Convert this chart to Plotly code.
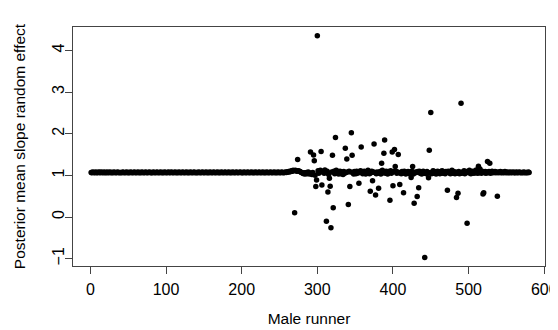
import plotly.graph_objects as go

# Posterior mean slope random effect per male runner
band_a = [  # runners 1-140
    1.07,1.06,1.08,1.07,1.07,1.06,1.08,1.07,1.06,1.07,1.08,1.07,1.06,1.08,1.07,1.07,1.06,1.08,1.07,1.06,
    1.07,1.08,1.06,1.07,1.07,1.08,1.06,1.07,1.07,1.06,1.08,1.07,1.07,1.06,1.07,1.08,1.07,1.06,1.07,1.07,
    1.06,1.07,1.08,1.07,1.06,1.07,1.07,1.08,1.06,1.07,1.07,1.06,1.08,1.07,1.07,1.06,1.07,1.08,1.07,1.06,
    1.07,1.07,1.08,1.06,1.07,1.07,1.06,1.08,1.07,1.07,1.06,1.07,1.08,1.07,1.06,1.07,1.07,1.08,1.07,1.06,
    1.07,1.06,1.08,1.07,1.07,1.06,1.07,1.08,1.07,1.06,1.07,1.07,1.08,1.06,1.07,1.07,1.06,1.08,1.07,1.07,
    1.06,1.07,1.08,1.07,1.06,1.07,1.08,1.07,1.06,1.07,1.07,1.08,1.06,1.07,1.07,1.06,1.08,1.07,1.07,1.06,
    1.07,1.08,1.07,1.06,1.07,1.07,1.08,1.06,1.07,1.07,1.06,1.08,1.07,1.07,1.06,1.07,1.08,1.07,1.06,1.07,
]
band_b = [  # runners 141-280
    1.07,1.06,1.08,1.07,1.07,1.06,1.07,1.08,1.07,1.06,1.07,1.07,1.08,1.06,1.07,1.07,1.06,1.08,1.07,1.07,
    1.06,1.07,1.08,1.07,1.06,1.07,1.07,1.08,1.06,1.07,1.07,1.06,1.08,1.07,1.07,1.06,1.07,1.08,1.07,1.06,
    1.07,1.07,1.08,1.06,1.07,1.07,1.06,1.08,1.07,1.07,1.06,1.07,1.08,1.07,1.06,1.07,1.07,1.08,1.07,1.06,
    1.07,1.06,1.08,1.07,1.07,1.06,1.07,1.08,1.07,1.06,1.07,1.07,1.08,1.06,1.07,1.07,1.06,1.08,1.07,1.07,
    1.06,1.07,1.08,1.07,1.06,1.07,1.07,1.08,1.06,1.07,1.07,1.06,1.08,1.07,1.07,1.06,1.07,1.08,1.07,1.06,
    1.07,1.07,1.08,1.06,1.07,1.07,1.06,1.08,1.07,1.07,1.06,1.07,1.08,1.07,1.06,1.07,1.07,1.08,1.07,1.08,
    1.08,1.09,1.08,1.10,1.09,1.11,1.10,1.12,1.11,1.10,1.12,1.11,1.10,1.09,1.11,1.10,1.09,1.08,1.07,1.06,
]
band_c = [  # runners 281-430
    1.05,1.04,1.06,1.03,1.05,1.07,1.04,1.08,1.06,1.03,1.10,1.05,1.02,1.07,1.09,1.04,1.00,1.06,1.03,1.08,
    1.11,1.05,1.09,1.12,1.06,1.03,1.08,1.10,1.05,1.13,1.07,1.04,1.10,1.06,1.02,1.09,1.14,1.05,1.08,1.03,
    1.06,1.10,1.04,1.07,1.12,1.05,1.09,1.03,1.07,1.10,1.04,1.08,1.06,1.02,1.09,1.05,1.11,1.07,1.03,1.08,
    1.06,1.10,1.04,1.08,1.05,1.12,1.07,1.03,1.09,1.06,1.04,1.10,1.05,1.08,1.02,1.07,1.11,1.05,1.09,1.04,
    1.07,1.10,1.06,1.03,1.08,1.05,1.12,1.07,1.04,1.09,1.06,1.10,1.03,1.08,1.05,1.07,1.11,1.04,1.08,1.06,
    1.10,1.05,1.09,1.03,1.07,1.12,1.06,1.04,1.08,1.05,1.10,1.07,1.03,1.09,1.06,1.04,1.11,1.05,1.08,1.06,
    1.09,1.04,1.07,1.10,1.05,1.08,1.03,1.06,1.11,1.07,1.04,1.09,1.05,1.07,1.10,1.06,1.03,1.08,1.05,1.09,
    1.06,1.04,1.08,1.05,1.10,1.07,1.03,1.09,1.06,1.08,
]
band_d = [  # runners 431-580
    1.07,1.04,1.09,1.06,1.10,1.05,1.08,1.03,1.07,1.10,1.05,1.08,1.06,1.04,1.09,1.07,1.05,1.10,1.06,1.08,
    1.04,1.07,1.11,1.05,1.09,1.06,1.03,1.08,1.10,1.05,1.07,1.04,1.09,1.06,1.11,1.05,1.08,1.06,1.04,1.09,
    1.07,1.05,1.10,1.06,1.08,1.04,1.07,1.12,1.05,1.09,1.06,1.04,1.08,1.10,1.05,1.07,1.09,1.04,1.06,1.10,
    1.05,1.08,1.06,1.11,1.04,1.07,1.09,1.05,1.08,1.06,1.12,1.07,1.04,1.09,1.06,1.10,1.05,1.08,1.06,1.13,
    1.07,1.05,1.09,1.06,1.15,1.08,1.05,1.10,1.07,1.12,1.06,1.09,1.05,1.08,1.10,1.06,1.09,1.07,1.05,1.08,
    1.10,1.06,1.08,1.07,1.09,1.06,1.08,1.07,1.06,1.08,1.07,1.09,1.06,1.07,1.08,1.06,1.07,1.09,1.07,1.06,
    1.08,1.07,1.06,1.07,1.08,1.06,1.07,1.07,1.08,1.06,1.07,1.06,1.08,1.07,1.06,1.07,1.08,1.07,1.06,1.07,
    1.07,1.06,1.08,1.07,1.06,1.07,1.07,1.06,1.08,1.07,
]

# runners whose estimate departs from the common value
outlier_runner = [270, 274, 291, 295, 296, 298, 299, 300, 305, 306, 312, 314, 316, 317, 318,
                  320, 321, 324, 337, 339, 341, 343, 345, 346, 355, 358, 370, 373, 375, 377,
                  381, 385, 388, 389, 396, 399, 400, 402, 403, 407, 409, 414, 424, 426, 428,
                  432, 434, 442, 447, 448, 450, 472, 484, 486, 490, 498, 513, 519, 520, 525,
                  528, 538]
outlier_value = [0.10, 1.38, 1.56, 1.49, 1.35, 0.73, 0.89, 4.35, 1.57, 0.77, -0.10, 0.60, 0.93, 0.74, -0.26,
                 1.48, 0.22, 1.91, 1.65, 1.39, 0.30, 0.73, 2.02, 1.48, 0.81, 1.68, 0.62, 0.87, 1.75, 0.53,
                 0.69, 1.29, 1.53, 1.85, 0.40, 1.56, 0.75, 1.62, 1.21, 1.50, 0.78, 0.58, 0.95, 1.21, 0.33,
                 0.49, 0.70, -0.97, 0.94, 1.60, 2.51, 0.64, 0.47, 0.57, 2.73, -0.15, 1.22, 0.55, 0.58, 1.33,
                 1.29, 0.50]

x_ticks = [0, 100, 200, 300, 400, 500, 600]
y_ticks = [-1, 0, 1, 2, 3, 4]

values = band_a + band_b + band_c + band_d
runner = list(range(1, len(values) + 1))
for r, v in zip(outlier_runner, outlier_value):
    values[r - 1] = v

fig = go.Figure(go.Scatter(
    x=runner, y=values, mode="markers",
    marker=dict(color="black", size=5.5, line=dict(width=0)),
    hoverinfo="x+y",
))

axis_common = dict(
    showgrid=False, zeroline=False, showline=True, mirror=True, automargin=False,
    linecolor="#444", linewidth=1, ticks="outside", ticklen=7, tickcolor="#444",
    ticklabeloverflow="allow",
    tickfont=dict(family="Liberation Sans, Arial, sans-serif", size=16, color="black"),
)

# the page body adds an 8px offset; margins compensate so the plot box lands where the reference has it
fig.update_layout(
    width=558, height=322,
    margin=dict(l=65, r=21, t=19, b=64),
    paper_bgcolor="white", plot_bgcolor="white",
    showlegend=False,
    font=dict(family="Liberation Sans, Arial, sans-serif", color="black"),
    xaxis=dict(
        axis_common, range=[-23, 601], tickvals=x_ticks, ticklabelstandoff=2,
        title=dict(text="Male runner", font=dict(size=15.5), standoff=15),
    ),
    yaxis=dict(
        axis_common, range=[-1.175, 4.56], tickvals=y_ticks, tickangle=-90,
        ticklabelstandoff=-5,
        title=dict(text="Posterior mean slope random effect", font=dict(size=15.5), standoff=20),
    ),
)

fig.write_html("out.html")
